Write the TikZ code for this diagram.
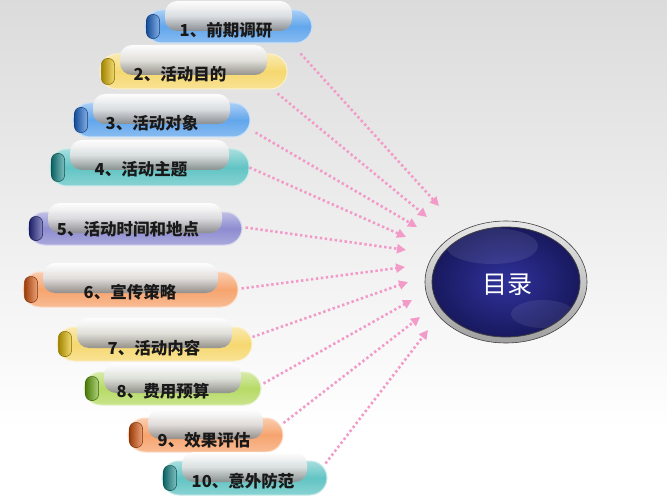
\documentclass[tikz,border=0pt]{standalone}
\usepackage{fontspec}
\newfontfamily\cjk{Noto Sans CJK SC}
\usetikzlibrary{arrows.meta,shapes.geometric,calc}
\definecolor{bluepill}{HTML}{62A6EC}
\definecolor{bluecap}{HTML}{1F6FD6}
\definecolor{yelpill}{HTML}{F6D870}
\definecolor{yelcap}{HTML}{E8BE00}
\definecolor{tealpill}{HTML}{62C4C4}
\definecolor{tealcap}{HTML}{178F8F}
\definecolor{purppill}{HTML}{8E8CD0}
\definecolor{purpcap}{HTML}{2E3196}
\definecolor{orgpill}{HTML}{F6A46E}
\definecolor{orgcap}{HTML}{E0580F}
\definecolor{grnpill}{HTML}{B6DB66}
\definecolor{grncap}{HTML}{6DB00F}
\definecolor{arrowpink}{HTML}{F39BC8}
\definecolor{navyin}{HTML}{30329C}
\definecolor{navyout}{HTML}{18195E}
\tikzset{
  pillbox/.style={rectangle, rounded corners=17pt, inner sep=0pt},
  capbox/.style={rectangle, rounded corners=6pt, inner sep=0pt, minimum width=13pt, line width=0.5pt},
  gloss/.style={top color=white, bottom color=black!45, middle color=white!88!black, fill opacity=0.93},
  pilltext/.style={font=\cjk\bfseries\fontsize{16.5}{16.5}\selectfont, text=black!90, inner sep=0pt},
  arr/.style={draw=arrowpink, line width=2.6pt, dash pattern=on 2.4pt off 2.6pt,
              -{Triangle[length=9pt,width=9pt,fill=arrowpink]}},
}
\newcommand\mkpill[9]{%
  \node[pillbox, minimum width={#5-#4}, minimum height={#7-#6},
        top color=#2!55!white, bottom color=#2!75!white, middle color=#2,
        draw=#2!35!white, line width=1pt] (#1) at ({(#4+#5)/2},{(#6+#7)/2}) {};
  \node[capbox, minimum height={#7-#6-9}, left color=#3!70!black, right color=#3!55!white,
        draw=#3!55!black] (#1cap) at ({#4+8},{(#6+#7)/2}) {};
  \shade[gloss, rounded corners=12pt] ({#4+20},{#6-9}) rectangle ({#5-20},{#6+21});
  \node[pilltext] (#1txt) at (#8) {#9};
}
\begin{document}
\begin{tikzpicture}[x=1pt,y=-1pt]
\useasboundingbox (0,0) rectangle (667,500);
% background
\shade[top color=gray!28, bottom color=white] (0,0) rectangle (667,430);
\fill[white] (0,430) rectangle (667,500);

% central ellipse
\node[ellipse, minimum width=162pt, minimum height=122pt, inner sep=0pt,
      top color=gray!18, bottom color=gray!75, middle color=gray!45,
      draw=gray!50!black, line width=0.6pt] (toc) at (506,282) {};
\node[ellipse, minimum width=148pt, minimum height=110pt, inner sep=0pt,
      inner color=navyin, outer color=navyout, draw=black!75, line width=0.8pt] (tocin) at (506,282) {};
\begin{scope}
  \clip (506,282) ellipse (73.5pt and 54.5pt);
  \fill[white, opacity=0.09] (492,246) ellipse (46pt and 18pt);
  \fill[white, opacity=0.08] (543,314) ellipse (32pt and 14pt);
\end{scope}
\node[font=\cjk\fontsize{25}{25}\selectfont, text=white] (title) at (507,285) {目录};

% arrow targets
\coordinate (c1) at ($(toc)+(-67,-76)$);
\coordinate (c2) at ($(toc)+(-79,-65)$);
\coordinate (c3) at ($(toc)+(-89,-55)$);
\coordinate (c4) at ($(toc)+(-100,-45)$);
\coordinate (c5) at ($(toc)+(-100,-32)$);
\coordinate (c6) at ($(toc)+(-101,-15)$);
\coordinate (c7) at ($(toc)+(-98,0)$);
\coordinate (c8) at ($(toc)+(-94,18)$);
\coordinate (c9) at ($(toc)+(-86,35)$);
\coordinate (c10) at ($(toc)+(-78,48)$);

% pills
\mkpill{p1}{bluepill}{bluecap}{145}{312}{10}{43}{226,30}{1、前期调研}
\mkpill{p2}{yelpill}{yelcap}{100}{287}{54}{89}{180,74}{2、活动目的}
\mkpill{p3}{bluepill}{bluecap}{73}{250}{103}{137}{152,123}{3、活动对象}
\mkpill{p4}{tealpill}{tealcap}{50}{249}{149}{186}{141,169}{4、活动主题}
\mkpill{p5}{purppill}{purpcap}{28}{242}{212}{245}{128,229}{5、活动时间和地点}
\mkpill{p6}{orgpill}{orgcap}{23}{238}{272}{307}{130,292}{6、宣传策略}
\mkpill{p7}{yelpill}{yelcap}{57}{252}{327}{361}{154,348}{7、活动内容}
\mkpill{p8}{grnpill}{grncap}{84}{261}{372}{405}{163,391}{8、费用预算}
\mkpill{p9}{orgpill}{orgcap}{128}{283}{418}{452}{204,440}{9、效果评估}
\mkpill{p10}{tealpill}{tealcap}{162}{327}{461}{495}{243,481}{10、意外防范}

% arrows
\draw[arr] ([shift={(-12,10)}]p1.south east) -- (c1);
\draw[arr] ([shift={(-10,4)}]p2.south east) -- (c2);
\draw[arr] ([shift={(5,-5)}]p3.south east) -- (c3);
\draw[arr] ([shift={(0,0)}]p4.east) -- (c4);
\draw[arr] ([shift={(3,-1)}]p5.east) -- (c5);
\draw[arr] ([shift={(3,-1)}]p6.east) -- (c6);
\draw[arr] ([shift={(0,-7)}]p7.east) -- (c7);
\draw[arr] ([shift={(2,-5)}]p8.east) -- (c8);
\draw[arr] ([shift={(0,-12)}]p9.east) -- (c9);
\draw[arr] ([shift={(-2,3)}]p10.north east) -- (c10);
\end{tikzpicture}
\end{document}
